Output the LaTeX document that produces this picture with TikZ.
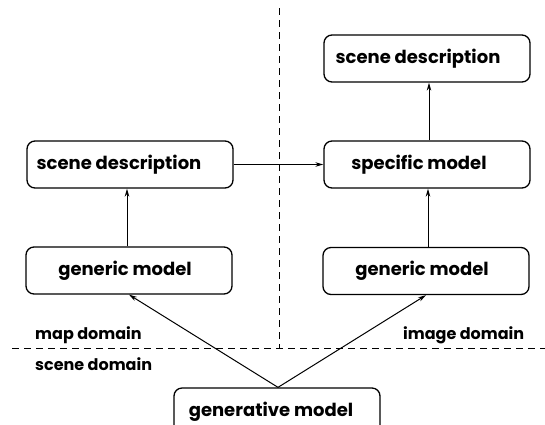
\documentclass[tikz,border=0pt]{standalone}
\usepackage{fontspec}
\setmainfont{Poppins}
\usetikzlibrary{arrows.meta}
\tikzset{
  box/.style={draw, line width=1.3pt, rounded corners=8pt, minimum width=206pt, minimum height=47pt, inner sep=0pt, font=\fontsize{18}{18}\selectfont\bfseries},
  arr/.style={line width=1pt, -{Stealth[length=8pt,width=4.5pt]}},
  sep/.style={line width=1pt, dash pattern=on 7pt off 5pt},
  lab/.style={font=\fontsize{16}{16}\selectfont\bfseries, anchor=west, inner sep=0pt}
}
\begin{document}
\begin{tikzpicture}[x=1pt,y=-1pt]
\useasboundingbox (0,0) rectangle (545,424);
\node[box] (sdR) at (427,58.5) {scene description\hspace*{18pt}};
\node[box] (spec) at (427,164.5) {specific model\hspace*{16pt}};
\node[box] (sdL) at (130,164.5) {scene description\hspace*{22pt}};
\node[box] (genL) at (129,270.5) {generic model\hspace*{8pt}};
\node[box] (genR) at (426,271) {generic model\hspace*{8pt}};
\node[box] (gen) at (277,411.5) {generative model\hspace*{12pt}};
\coordinate (vtop) at (279,8);
\coordinate (vbot) at (279,348.5);
\coordinate (hl) at (12,348.5);
\coordinate (hr) at (545,348.5);
\draw[sep] (vtop) -- (vbot);
\draw[sep] (hl) -- (hr);
\coordinate (a1) at ([xshift=-2pt]genL.north);
\coordinate (a2) at ([xshift=2pt]genR.north);
\coordinate (a3) at ([xshift=2pt]spec.north);
\coordinate (g0) at ([xshift=1pt]gen.north);
\draw[arr] (a1) -- (a1 |- sdL.south);
\draw[arr] (a2) -- (a2 |- spec.south);
\draw[arr] (a3) -- (a3 |- sdR.south);
\draw[arr] (sdL.east) -- (spec.west);
\draw[arr] (g0) -- (genL.south);
\draw[arr] (g0) -- (genR.south);
\node[lab] (mapd) at (35,335) {map domain};
\node[lab] (imgd) at (403,335) {image domain};
\node[lab] (scnd) at (35,364) {scene domain};
\end{tikzpicture}
\end{document}
